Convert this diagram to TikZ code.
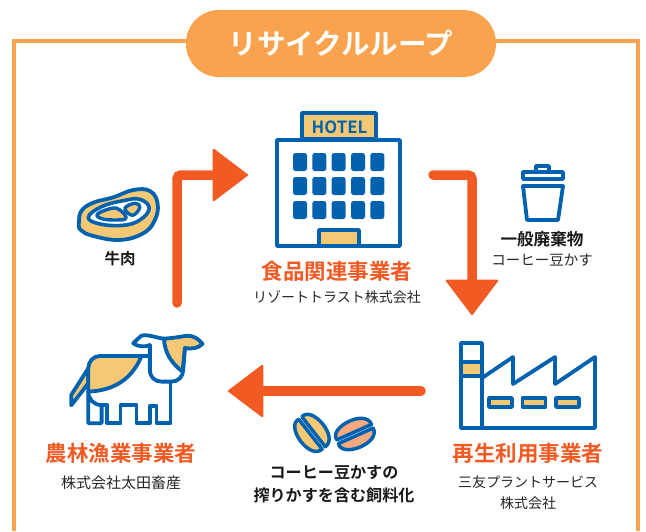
\documentclass[tikz,border=0pt]{standalone}
\usepackage{fontspec}
\usetikzlibrary{arrows.meta}
\setmainfont[BoldFont={Noto Sans CJK JP Bold}]{Noto Sans CJK JP}
\definecolor{blu}{HTML}{0062AE}
\definecolor{org}{HTML}{F6C874}
\definecolor{pill}{HTML}{FAA34E}
\definecolor{red}{HTML}{F25A24}
\definecolor{bean}{HTML}{F9A97F}
\tikzset{
 ln/.style={draw=blu,line width=3.8pt,line join=round,line cap=round},
 win/.style={fill=blu,rounded corners=2.5pt},
 flow/.style={draw=red,line width=9.5pt,rounded corners=4pt,line cap=round,-{Triangle[length=36pt,width=54pt,line width=2pt,round]}},
 head/.style={font=\bfseries\fontsize{21.5}{24}\selectfont,text=red,inner sep=0pt},
 sub/.style={font=\fontsize{14}{17}\selectfont,text=black!85,inner sep=0pt},
 subl/.style={font=\fontsize{15}{17}\selectfont,text=black!85,inner sep=0pt},
 bold/.style={font=\bfseries\fontsize{15.5}{18}\selectfont,text=black!90,inner sep=0pt},
 boldl/.style={font=\bfseries\fontsize{16.6}{18}\selectfont,text=black!90,inner sep=0pt},
 bold2/.style={font=\bfseries\fontsize{16.1}{20}\selectfont,text=black!90,inner sep=0pt},
 halfbean/.style={draw=blu,line width=3.5pt,line join=round},
}
\begin{document}
\begin{tikzpicture}[x=1pt,y=-1pt]
\useasboundingbox (0,0) rectangle (646,531);
\fill[white] (0,0) rectangle (646,531);
% frame
\draw[pill,line width=3.2pt] (14,531) -- (14,41) -- (638,41) -- (638,531);
\node[fill=pill,rounded corners=33pt,minimum width=310pt,minimum height=67pt,inner sep=0pt,font=\bfseries\fontsize{28.5}{30}\selectfont,text=white] (title) at (341,43.5) {リサイクルループ};
% hotel
\draw[ln,fill=white] (277,140) rectangle (400,246);
\draw[ln,fill=org] (302,113) rectangle (376,139);
\node[font=\bfseries\fontsize{16.8}{17}\selectfont,text=blu,inner sep=0pt] (hotel) at (339.5,127) {HOTEL};
\foreach \y in {153,177,201}\foreach \x in {293,312.3,331.6,351,370.3}
 \fill[win] (\x,\y) rectangle +(14,18);
\draw[ln,fill=org] (319,230) rectangle (359,246);
% trash
\draw[ln] (536,172) -- (536,166) -- (549,166) -- (549,172);
\draw[ln,fill=white] (523,172) rectangle (563,179);
\draw[ln] (523,186) -- (563,186) -- (558,220) -- (527,220) -- cycle;
% meat
\begin{scope}[shift={(60,180)},x=0.333pt,y=-0.333pt]
\draw[ln,fill=org] plot[smooth cycle,tension=.7] coordinates {(57,125)(65,92)(100,68)(160,52)(220,30)(270,33)(293,70)(285,120)(250,160)(180,180)(100,168)(62,150)};
\draw[ln,fill=white,line width=3.6pt] plot[smooth cycle,tension=.7] coordinates {(85,112)(125,80)(190,62)(240,58)(268,85)(240,120)(190,136)(120,132)};
\draw[ln,fill=org,line width=3.4pt] plot[smooth cycle,tension=.7] coordinates {(113,102)(155,85)(180,90)(198,115)(165,120)(125,116)};
\draw[ln,fill=org,line width=3.4pt] plot[smooth cycle,tension=.7] coordinates {(195,85)(225,70)(240,82)(218,106)};
\end{scope}
% cow
\begin{scope}[shift={(50,320)},x=0.333pt,y=-0.333pt]
\draw[ln,fill=org] (115,145) -- (64,225) -- (64,256) -- (115,190) -- cycle;
\fill[white] (115,215) -- (115,235) .. controls (120,250) and (135,255) .. (155,255) -- (362,255) -- (362,185) -- (300,100) -- (190,160) -- cycle;
\draw[ln] (115,215) .. controls (115,238) and (130,254) .. (155,256) -- (155,310) -- (115,310) -- (115,215);
\draw[ln] (155,256) -- (172,256) -- (172,310) -- (212,310) -- (212,256) -- (260,256) -- (260,310) -- (300,310) -- (300,258) -- (320,258) -- (320,310) -- (362,310) -- (362,185);
\draw[ln,fill=org] (275,108) -- (150,108) .. controls (130,108) and (115,125) .. (115,145) -- (115,215) .. controls (190,212) and (245,180) .. (275,108) -- cycle;
\draw[ln] (275,108) -- (300,108);
\fill[white] (300,70) -- (300,150) .. controls (300,172) and (315,185) .. (335,185) -- (365,185) .. controls (385,185) and (400,170) .. (400,150) -- (405,70) -- cycle;
\draw[ln] (300,75) -- (300,150) .. controls (300,172) and (315,185) .. (335,185) -- (365,185) .. controls (385,185) and (400,170) .. (400,150) -- (405,84);
\draw[ln,fill=org] (342,56) .. controls (345,100) and (365,130) .. (398,155) -- (405,84) .. controls (425,88) and (445,85) .. (458,72) .. controls (445,55) and (430,45) .. (405,48) .. controls (385,52) and (360,55) .. (342,56) -- cycle;
\draw[ln] (342,56) .. controls (320,54) and (295,42) .. (275,47) .. controls (265,55) and (258,62) .. (250,70) .. controls (262,80) and (285,82) .. (300,75);
\end{scope}
% factory
\draw[ln] (482,378) -- (513,357) -- (513,384) -- (555,357) -- (555,384) -- (595,357) -- (595,428) -- (461,428);
\draw[ln,fill=white] (461,343) rectangle (482,428);
\draw[ln,fill=org] (461,362) rectangle (482,376);
\foreach \x in {489,522.5,556}
 \draw[ln,fill=org] (\x,398) rectangle +(23,9);
% beans
\begin{scope}[shift={(312,433)},rotate=-52]
\draw[halfbean,fill=org] (-19,2) .. controls (-22,17) and (20,19) .. (19,2) -- cycle;
\draw[halfbean,fill=org] (-19,-2) .. controls (-22,-17) and (20,-19) .. (19,-2) -- cycle;
\end{scope}
\begin{scope}[shift={(355,434)},rotate=24]
\draw[halfbean,fill=bean] (-19,2) .. controls (-22,17) and (20,19) .. (19,2) -- cycle;
\draw[halfbean,fill=bean] (-19,-2) .. controls (-22,-17) and (20,-19) .. (19,-2) -- cycle;
\end{scope}
% texts
\node[head] (hh) at (337,271) {食品関連事業者};
\node[sub] (hs) at (337,297) {リゾートトラスト株式会社};
\node[bold] (n1) at (120,259) {牛肉};
\node[boldl] (n2) at (542,239) {一般廃棄物};
\node[subl,font=\fontsize{14.5}{17}\selectfont] (n3) at (542,260) {コーヒー豆かす};
\node[head] (fh) at (121,453) {農林漁業事業者};
\node[subl] (fs) at (121,483) {株式会社太田畜産};
\node[head] (rh) at (528,453) {再生利用事業者};
\node[sub] (rs) at (528,482) {三友プラントサービス};
\node[sub] (rs2) at (528,503) {株式会社};
\node[bold2] (b1) at (334,473) {コーヒー豆かすの};
\node[bold2] (b2) at (334,495) {搾りかすを含む飼料化};
% connectors
\coordinate (a1) at (177,303);
\coordinate (a2) at (248,175);
\coordinate (b3) at (433,175);
\coordinate (b4) at (472,315);
\coordinate (c1) at (421,391);
\coordinate (c2) at (228,391);
\draw[flow] (a1) |- (a2);
\draw[flow] (b3) -| (b4);
\draw[flow] (c1) -- (c2);
\end{tikzpicture}
\end{document}
